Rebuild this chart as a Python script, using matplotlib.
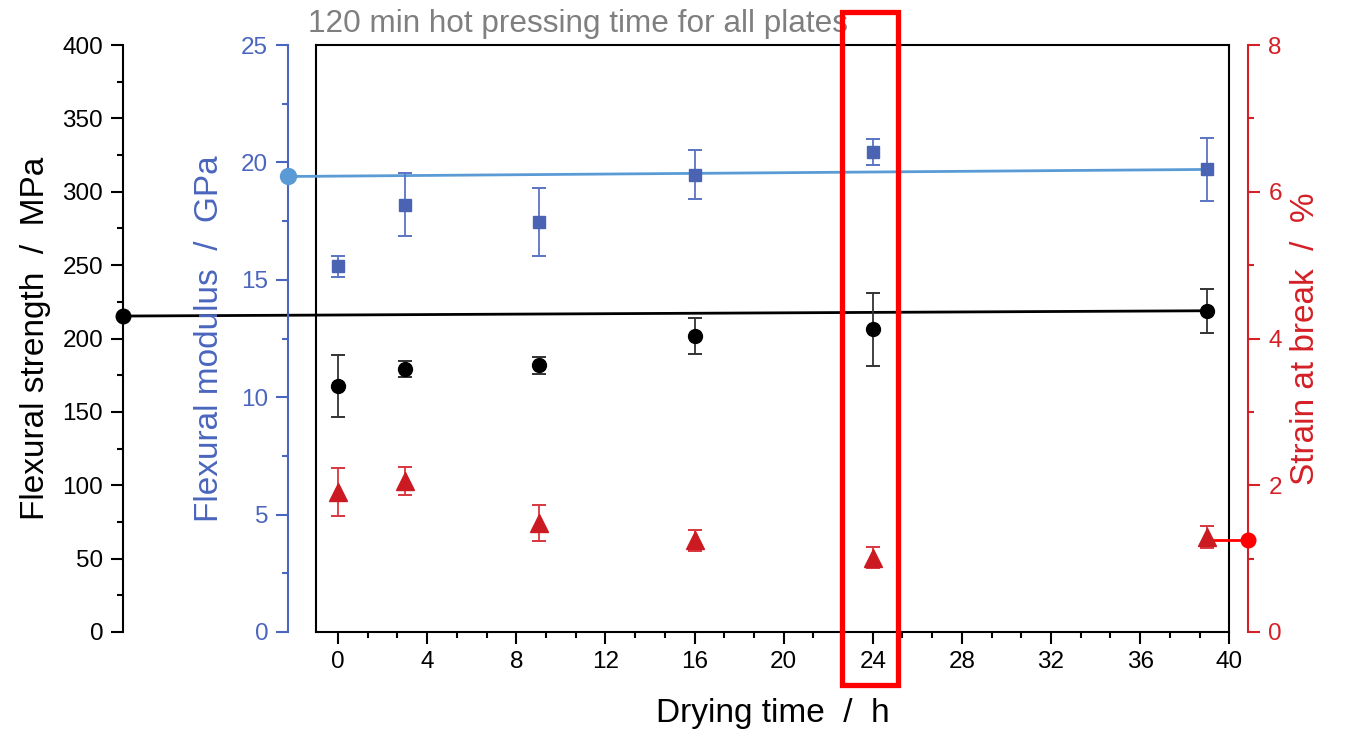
import matplotlib
matplotlib.use('Agg')
import matplotlib.pyplot as plt
from matplotlib.ticker import MultipleLocator, FixedLocator
from matplotlib.patches import Rectangle
import matplotlib.transforms as mtransforms

plt.rcParams['font.family'] = ['Liberation Sans', 'DejaVu Sans']

# ---------------- data ----------------
drying_time = [0, 3, 9, 16, 24, 39]
strength = [167.6, 179.0, 181.7, 201.7, 206.3, 218.9]
strength_err = [21.0, 5.5, 5.7, 12.0, 24.7, 14.9]
modulus = [15.57, 18.19, 17.46, 19.47, 20.45, 19.70]
modulus_err = [0.43, 1.34, 1.46, 1.05, 0.56, 1.33]
strain = [1.91, 2.06, 1.485, 1.25, 1.015, 1.29]
strain_err = [0.33, 0.195, 0.24, 0.145, 0.14, 0.15]

strength_ref = 215.3
modulus_ref = 19.4
strain_ref = 1.25
highlight_time = 24

x_ticks = [0, 4, 8, 12, 16, 20, 24, 28, 32, 36, 40]
strength_ticks = [0, 50, 100, 150, 200, 250, 300, 350, 400]
modulus_ticks = [0, 5, 10, 15, 20, 25]
strain_ticks = [0, 2, 4, 6, 8]

title_text = "120 min hot pressing time for all plates"
x_label = "Drying time  /  h"
strength_label = "Flexural strength  /  MPa"
modulus_label = "Flexural modulus  /  GPa"
strain_label = "Strain at break  /  %"

# ---------------- style ----------------
BLACK = '#000000'
BLUE_AX = '#4A66BD'
BLUE_MK = '#4A63B2'
BLUE_ERR = '#5A74C4'
BLUE_LINE = '#5B9BD5'
RED_AX = '#D42026'
RED_MK = '#CC1A22'
RED_ERR = '#D9363E'
RED_LINE = '#FF0000'
GRAY = '#7F7F7F'

TICK_FS = 17.5
LABEL_FS = 24
MAJ_LEN, MIN_LEN, TW = 8.5, 4.2, 1.5
SPINE_LW = 1.5
CAPSIZE = 4.8

W, H = 1345, 730
fig = plt.figure(figsize=(W / 100, H / 100), dpi=100)
ax = fig.add_axes([315.7 / W, 1 - 632 / H, 913.6 / W, 587 / H])

# main axes (x axis + frame)
ax.set_xlim(-1, 40)
ax.set_ylim(0, 1)
ax.set_yticks([])
ax.xaxis.set_major_locator(FixedLocator(x_ticks))
ax.xaxis.set_minor_locator(MultipleLocator(4 / 3))
ax.tick_params(axis='x', which='major', direction='out', length=MAJ_LEN, width=TW,
               labelsize=TICK_FS, pad=5, color=BLACK)
ax.tick_params(axis='x', which='minor', direction='out', length=MIN_LEN, width=TW)
for s in ax.spines.values():
    s.set_linewidth(SPINE_LW)
    s.set_color(BLACK)
ax.set_xlabel(x_label, fontsize=LABEL_FS)
ax.xaxis.set_label_coords(0.5, -0.1528)
ax.xaxis.label.set_va('baseline')

ax.text(-0.0084, 1.0221, title_text, transform=ax.transAxes, fontsize=22.7,
        color=GRAY, ha='left', va='baseline')

xmin, xmax = ax.get_xlim()


def spine_x(pos):
    return xmin + pos * (xmax - xmin)


def make_twin(side, pos, color, ylim, ticks, minor):
    t = ax.twinx()
    for name, s in t.spines.items():
        s.set_visible(name == side)
    t.spines[side].set_position(('axes', pos))
    t.spines[side].set_color(color)
    t.spines[side].set_linewidth(SPINE_LW)
    if side == 'left':
        t.yaxis.tick_left()
        t.yaxis.set_label_position('left')
    else:
        t.yaxis.tick_right()
        t.yaxis.set_label_position('right')
    t.set_ylim(*ylim)
    t.yaxis.set_major_locator(FixedLocator(ticks))
    t.yaxis.set_minor_locator(MultipleLocator(minor))
    t.tick_params(axis='y', which='major', direction='out', length=MAJ_LEN, width=TW,
                  labelsize=TICK_FS, colors=color, pad=6)
    t.tick_params(axis='y', which='minor', direction='out', length=MIN_LEN, width=TW,
                  colors=color)
    return t


pos_s, pos_m, pos_e = -0.2106, -0.0300, 1.0208
ax_s = make_twin('left', pos_s, BLACK, (0, 400), strength_ticks, 25)
ax_m = make_twin('left', pos_m, BLUE_AX, (0, 25), modulus_ticks, 2.5)
ax_e = make_twin('right', pos_e, RED_AX, (0, 8), strain_ticks, 1)

ax_s.set_ylabel(strength_label, fontsize=LABEL_FS, color=BLACK)
ax_s.yaxis.set_label_coords(-0.3062, 0.5)
ax_s.yaxis.label.set_va('center')
ax_m.set_ylabel(modulus_label, fontsize=LABEL_FS, color=BLUE_AX)
ax_m.yaxis.set_label_coords(-0.1157, 0.5)
ax_m.yaxis.label.set_va('center')
ax_e.set_ylabel(strain_label, fontsize=LABEL_FS, color=RED_AX)
ax_e.yaxis.set_label_coords(1.0836, 0.5)
ax_e.yaxis.label.set_va('center')

# reference lines from each axis spine to the last sample
ax_s.plot([spine_x(pos_s), drying_time[-1]], [strength_ref, strength[-1]],
          color=BLACK, lw=2.0, clip_on=False, zorder=2)
ax_s.plot([spine_x(pos_s)], [strength_ref], 'o', color=BLACK, ms=10.5,
          clip_on=False, zorder=3)
ax_m.plot([spine_x(pos_m), drying_time[-1]], [modulus_ref, modulus[-1]],
          color=BLUE_LINE, lw=2.0, clip_on=False, zorder=2)
ax_m.plot([spine_x(pos_m)], [modulus_ref], 'o', color=BLUE_LINE, ms=11.5,
          clip_on=False, zorder=3)
ax_e.plot([drying_time[-1], spine_x(pos_e)], [strain_ref, strain_ref],
          color=RED_LINE, lw=2.0, clip_on=False, zorder=2)
ax_e.plot([spine_x(pos_e)], [strain_ref], 'o', color=RED_LINE, ms=10.5,
          clip_on=False, zorder=3)

# data series
ax_s.errorbar(drying_time, strength, yerr=strength_err, fmt='o', color=BLACK,
              ms=10, ecolor='#333333', elinewidth=1.3, capsize=CAPSIZE,
              capthick=1.4, zorder=4)
ax_m.errorbar(drying_time, modulus, yerr=modulus_err, fmt='s', color=BLUE_MK,
              ms=9, ecolor=BLUE_ERR, elinewidth=1.3, capsize=CAPSIZE,
              capthick=1.4, zorder=4)
ax_e.errorbar(drying_time, strain, yerr=strain_err, fmt='^', color=RED_MK,
              ms=13, ecolor=RED_ERR, elinewidth=1.3, capsize=CAPSIZE,
              capthick=1.4, zorder=4)

# highlight box around the 24 h sample
box_tr = mtransforms.blended_transform_factory(ax_e.transData, ax_e.transAxes)
ax_e.add_patch(Rectangle((highlight_time - 1.37, -0.0903), 2.5, 1.1457,
                         transform=box_tr, fill=False, ec=RED_LINE, lw=3.8,
                         clip_on=False, zorder=10))

fig.savefig('out.png', dpi=100)
